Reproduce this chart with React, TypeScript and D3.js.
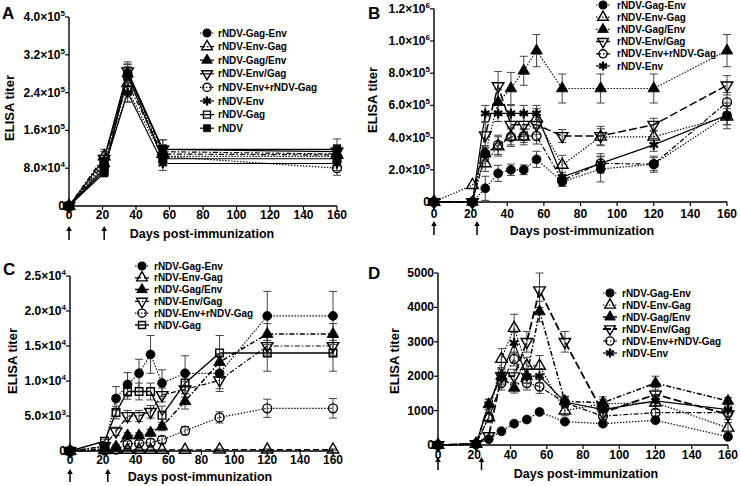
import React from 'react';
import * as d3 from 'd3';

// ---------- shared data ----------
const xTickValues = [0, 20, 40, 60, 80, 100, 120, 140, 160];
const daysA = [0, 21, 35, 56, 160];
const daysLong = [0, 21, 28, 35, 42, 49, 56, 70, 91, 120, 160];

const nGagEnv = 'rNDV-Gag-Env';
const nEnvGag = 'rNDV-Env-Gag';
const nGagSlashEnv = 'rNDV-Gag/Env';
const nEnvSlashGag = 'rNDV-Env/Gag';
const nEnvPlusGag = 'rNDV-Env+rNDV-Gag';
const nEnv = 'rNDV-Env';
const nGag = 'rNDV-Gag';
const nNDV = 'rNDV';

// ---------- panel A ----------
const yTicksA = [0, 80000, 160000, 240000, 320000, 400000];
const aGagEnv = [0, 95000, 280000, 105000, 105000];
const aGagEnvErr = [0, 12000, 20000, 15000, 15000];
const aEnvGag = [0, 105000, 260000, 110000, 108000];
const aEnvGagErr = [0, 15000, 20000, 15000, 15000];
const aGagSlashEnv = [0, 90000, 280000, 115000, 110000];
const aGagSlashEnvErr = [0, 12000, 20000, 15000, 15000];
const aEnvSlashGag = [0, 100000, 285000, 120000, 115000];
const aEnvSlashGagErr = [0, 15000, 20000, 20000, 15000];
const aEnvPlusGag = [0, 85000, 245000, 105000, 80000];
const aEnvPlusGagErr = [0, 12000, 25000, 15000, 15000];
const aEnv = [0, 80000, 240000, 90000, 90000];
const aEnvErr = [0, 10000, 20000, 15000, 15000];
const aGag = [0, 75000, 275000, 100000, 100000];
const aGagErr = [0, 10000, 20000, 15000, 15000];
const aNDV = [0, 70000, 280000, 120000, 120000];
const aNDVErr = [0, 8000, 20000, 20000, 22000];

// ---------- panel B ----------
const yTicksB = [0, 200000, 400000, 600000, 800000, 1000000, 1200000];
const bGagEnv = [0, 0, 85000, 178000, 200000, 200000, 265000, 126000, 205000, 235000, 535000];
const bGagEnvErr = [0, 0, 75000, 50000, 35000, 30000, 50000, 30000, 80000, 50000, 80000];
const bEnvGag = [0, 105000, 240000, 345000, 405000, 405000, 520000, 230000, 405000, 405000, 530000];
const bEnvGagErr = [0, 0, 50000, 60000, 60000, 50000, 60000, 60000, 50000, 40000, 50000];
const bGagSlashEnv = [0, 0, 300000, 620000, 705000, 815000, 940000, 705000, 705000, 705000, 940000];
const bGagSlashEnvErr = [0, 0, 40000, 80000, 100000, 90000, 100000, 90000, 90000, 90000, 100000];
const bEnvSlashGag = [0, 0, 415000, 720000, 480000, 480000, 480000, 410000, 410000, 480000, 725000];
const bEnvSlashGagErr = [0, 0, 80000, 90000, 60000, 60000, 60000, 40000, 60000, 40000, 60000];
const bEnvPlusGag = [0, 0, 300000, 355000, 405000, 410000, 410000, 135000, 240000, 235000, 620000];
const bEnvPlusGagErr = [0, 0, 50000, 60000, 50000, 40000, 50000, 30000, 60000, 40000, 60000];
const bEnv = [0, 0, 550000, 550000, 550000, 550000, 550000, 155000, 240000, 355000, 540000];
const bEnvErr = [0, 0, 50000, 50000, 50000, 50000, 50000, 30000, 40000, 40000, 60000];

// ---------- panel C ----------
const yTicksC = [0, 5000, 10000, 15000, 20000, 25000];
const cGagEnv = [0, 600, 7500, 9500, 11100, 13800, 9700, 11100, 11100, 19300, 19300];
const cGagEnvErr = [0, 200, 1700, 1700, 2000, 2700, 1900, 2500, 2600, 3500, 3500];
const cEnvGag = [0, 100, 150, 150, 150, 150, 150, 150, 200, 200, 200];
const cEnvGagErr = [0, 0, 100, 100, 100, 100, 100, 100, 100, 100, 100];
const cGagSlashEnv = [0, 300, 600, 2200, 2200, 2600, 3500, 7100, 12700, 16700, 16700];
const cGagSlashEnvErr = [0, 200, 300, 400, 400, 500, 600, 1100, 1200, 1500, 1500];
const cEnvSlashGag = [0, 700, 2800, 5000, 5000, 5600, 8000, 8800, 10100, 15000, 15000];
const cEnvSlashGagErr = [0, 300, 600, 800, 800, 900, 1000, 1100, 1200, 1300, 1300];
const cEnvPlusGag = [0, 100, 200, 1000, 1100, 1200, 1600, 2900, 4800, 6100, 6100];
const cEnvPlusGagErr = [0, 100, 200, 400, 400, 500, 500, 600, 800, 1300, 1400];
const cGag = [0, 1400, 5500, 8500, 8500, 8500, 5100, 9700, 14000, 14000, 14000];
const cGagErr = [0, 300, 900, 1100, 1200, 1200, 1300, 1500, 2500, 2600, 2600];

// ---------- panel D ----------
const yTicksD = [0, 1000, 2000, 3000, 4000, 5000];
const dGagEnv = [0, 20, 170, 400, 620, 740, 960, 680, 620, 720, 240];
const dGagEnvErr = [0, 20, 50, 50, 60, 60, 80, 60, 60, 60, 60];
const dEnvGag = [0, 30, 800, 2500, 3400, 2300, 2300, 1000, 1200, 1230, 500];
const dEnvGagErr = [0, 30, 150, 300, 400, 250, 300, 150, 200, 200, 150];
const dGagSlashEnv = [0, 30, 1180, 2000, 1660, 2000, 3880, 1270, 1230, 1800, 1280];
const dGagSlashEnvErr = [0, 30, 150, 250, 150, 200, 300, 150, 100, 200, 100];
const dEnvSlashGag = [0, 30, 260, 2000, 2000, 3000, 4500, 3000, 940, 1470, 890];
const dEnvSlashGagErr = [0, 30, 100, 200, 200, 300, 500, 300, 150, 200, 150];
const dEnvPlusGag = [0, 30, 800, 1800, 2500, 1800, 1700, 1230, 840, 940, 940];
const dEnvPlusGagErr = [0, 30, 100, 200, 200, 200, 200, 150, 100, 100, 100];
const dEnv = [0, 30, 1180, 2050, 2970, 2000, 2000, 1250, 1030, 1280, 1030];
const dEnvErr = [0, 30, 150, 200, 300, 200, 200, 150, 100, 150, 100];

// ---------- styling ----------
const FONT = "'Liberation Sans', Arial, Helvetica, sans-serif";
const DOT = '1.4,1.6';
const DASHDOT = '5,2,1.5,2';
const DASH = '6,3';
const LONGDASH = '8,3';
const SOLID = '';

type Series = {
  name: string;
  values: number[];
  errs: number[];
  marker: string;
  dash: string;
  width?: number;
};

type PanelCfg = {
  id: string;
  x0: number; x1: number; y0: number; y1: number;
  ymax: number;
  yTicks: number[];
  sci: boolean;
  days: number[];
  series: Series[];
  arrows: number[];
  arrowY: [number, number];
  xTickY: number;
  xTitle: [number, number];
  yTitle: [number, number];
  label: [number, number];
  legend: { mx: number; tx: number; y: number; step: number };
};

const panels: PanelCfg[] = [
  {
    id: 'A', x0: 69, x1: 337, y0: 206, y1: 17, ymax: 400000, yTicks: yTicksA, sci: true,
    days: daysA,
    series: [
      { name: nGagEnv, values: aGagEnv, errs: aGagEnvErr, marker: 'circleF', dash: DOT },
      { name: nEnvGag, values: aEnvGag, errs: aEnvGagErr, marker: 'triO', dash: DASHDOT },
      { name: nGagSlashEnv, values: aGagSlashEnv, errs: aGagSlashEnvErr, marker: 'triF', dash: DASHDOT },
      { name: nEnvSlashGag, values: aEnvSlashGag, errs: aEnvSlashGagErr, marker: 'invO', dash: SOLID },
      { name: nEnvPlusGag, values: aEnvPlusGag, errs: aEnvPlusGagErr, marker: 'circleO', dash: DOT },
      { name: nEnv, values: aEnv, errs: aEnvErr, marker: 'star', dash: SOLID },
      { name: nGag, values: aGag, errs: aGagErr, marker: 'squareO', dash: SOLID },
      { name: nNDV, values: aNDV, errs: aNDVErr, marker: 'squareF', dash: SOLID },
    ],
    arrows: [0, 21], arrowY: [226, 240], xTickY: 219,
    xTitle: [202, 238], yTitle: [14, 108], label: [2, 19],
    legend: { mx: 207, tx: 218, y: 33, step: 13.6 },
  },
  {
    id: 'B', x0: 434, x1: 727, y0: 202, y1: 8.8, ymax: 1200000, yTicks: yTicksB, sci: true,
    days: daysLong,
    series: [
      { name: nGagEnv, values: bGagEnv, errs: bGagEnvErr, marker: 'circleF', dash: DOT },
      { name: nEnvGag, values: bEnvGag, errs: bEnvGagErr, marker: 'triO', dash: DOT },
      { name: nGagSlashEnv, values: bGagSlashEnv, errs: bGagSlashEnvErr, marker: 'triF', dash: DOT },
      { name: nEnvSlashGag, values: bEnvSlashGag, errs: bEnvSlashGagErr, marker: 'invO', dash: LONGDASH, width: 1.5 },
      { name: nEnvPlusGag, values: bEnvPlusGag, errs: bEnvPlusGagErr, marker: 'circleO', dash: DASHDOT },
      { name: nEnv, values: bEnv, errs: bEnvErr, marker: 'star', dash: SOLID },
    ],
    arrows: [0, 23.5], arrowY: [221, 235], xTickY: 218,
    xTitle: [582, 235], yTitle: [377, 100], label: [368, 19],
    legend: { mx: 603, tx: 617, y: 5, step: 12.2 },
  },
  {
    id: 'C', x0: 70, x1: 333, y0: 451, y1: 276, ymax: 25000, yTicks: yTicksC, sci: true,
    days: daysLong,
    series: [
      { name: nGagEnv, values: cGagEnv, errs: cGagEnvErr, marker: 'circleF', dash: DOT },
      { name: nEnvGag, values: cEnvGag, errs: cEnvGagErr, marker: 'triO', dash: DASH },
      { name: nGagSlashEnv, values: cGagSlashEnv, errs: cGagSlashEnvErr, marker: 'triF', dash: DASHDOT, width: 1.5 },
      { name: nEnvSlashGag, values: cEnvSlashGag, errs: cEnvSlashGagErr, marker: 'invO', dash: DASHDOT },
      { name: nEnvPlusGag, values: cEnvPlusGag, errs: cEnvPlusGagErr, marker: 'circleO', dash: DOT },
      { name: nGag, values: cGag, errs: cGagErr, marker: 'squareO', dash: SOLID, width: 1.4 },
    ],
    arrows: [0, 23], arrowY: [469, 482], xTickY: 464,
    xTitle: [200, 481], yTitle: [17, 361], label: [3, 275],
    legend: { mx: 142, tx: 154, y: 266, step: 11.8 },
  },
  {
    id: 'D', x0: 438, x1: 728, y0: 445, y1: 273, ymax: 5000, yTicks: yTicksD, sci: false,
    days: daysLong,
    series: [
      { name: nGagEnv, values: dGagEnv, errs: dGagEnvErr, marker: 'circleF', dash: DOT },
      { name: nEnvGag, values: dEnvGag, errs: dEnvGagErr, marker: 'triO', dash: DOT },
      { name: nGagSlashEnv, values: dGagSlashEnv, errs: dGagSlashEnvErr, marker: 'triF', dash: DASHDOT, width: 1.5 },
      { name: nEnvSlashGag, values: dEnvSlashGag, errs: dEnvSlashGagErr, marker: 'invO', dash: LONGDASH, width: 1.8 },
      { name: nEnvPlusGag, values: dEnvPlusGag, errs: dEnvPlusGagErr, marker: 'circleO', dash: DASHDOT },
      { name: nEnv, values: dEnv, errs: dEnvErr, marker: 'star', dash: SOLID },
    ],
    arrows: [0, 24], arrowY: [457, 470], xTickY: 459,
    xTitle: [586, 478], yTitle: [399, 361], label: [368, 279],
    legend: { mx: 610, tx: 622, y: 293, step: 12 },
  },
];

function Marker({ type, x, y, scale = 1 }: { type: string; x: number; y: number; scale?: number }) {
  const sym = d3.symbol();
  if (type === 'star') {
    const r = 4.8 * Math.sqrt(scale);
    const segs = [0, 60, 120].map((a) => {
      const rad = (a * Math.PI) / 180;
      return `M${-r * Math.sin(rad)},${-r * Math.cos(rad)}L${r * Math.sin(rad)},${r * Math.cos(rad)}`;
    });
    return (
      <path d={segs.join('')} transform={`translate(${x},${y})`} stroke="#000" strokeWidth={2.3} fill="none" />
    );
  }
  let t: d3.SymbolType = d3.symbolCircle;
  let size = 62;
  let rot = 0;
  if (type.startsWith('tri')) { t = d3.symbolTriangle; size = 58; }
  if (type.startsWith('inv')) { t = d3.symbolTriangle; size = 58; rot = 180; }
  if (type.startsWith('square')) { t = d3.symbolSquare; size = 58; }
  const filled = type.endsWith('F');
  const d = sym.type(t).size(size * scale)() as string;
  return (
    <path
      d={d}
      transform={`translate(${x},${y}) rotate(${rot})`}
      fill={filled ? '#000' : 'none'}
      stroke="#000"
      strokeWidth={filled ? 0.8 : 1.4}
    />
  );
}

function fmtTick(v: number, sci: boolean) {
  if (v === 0 || !sci) return <>{String(v)}</>;
  const e = Math.floor(Math.log10(v));
  const m = (v / Math.pow(10, e)).toFixed(1);
  return (
    <>
      {m}×10<tspan dy={-5} fontSize={8}>{e}</tspan>
    </>
  );
}

function Panel({ cfg }: { cfg: PanelCfg }) {
  const x = d3.scaleLinear().domain([0, 160]).range([cfg.x0, cfg.x1]);
  const y = d3.scaleLinear().domain([0, cfg.ymax]).range([cfg.y0, cfg.y1]);
  const line = d3
    .line<number>()
    .x((_, i) => x(cfg.days[i]))
    .y((v) => y(v));
  const fs = 12;
  return (
    <g fontFamily={FONT} fontWeight="bold">
      {/* lines */}
      {cfg.series.map((s) => (
        <path
          key={'l' + s.name}
          d={line(s.values) as string}
          fill="none"
          stroke="#000"
          strokeWidth={s.width ?? 1.2}
          strokeDasharray={s.dash || undefined}
        />
      ))}
      {/* error bars */}
      {cfg.series.map((s) =>
        s.values.map((v, i) =>
          s.errs[i] > 0 ? (
            <g key={'e' + s.name + i} stroke="#444" strokeWidth={1}>
              <line x1={x(cfg.days[i])} x2={x(cfg.days[i])} y1={y(v + s.errs[i])} y2={y(Math.max(0, v - s.errs[i]))} />
              <line x1={x(cfg.days[i]) - 4} x2={x(cfg.days[i]) + 4} y1={y(v + s.errs[i])} y2={y(v + s.errs[i])} />
              <line x1={x(cfg.days[i]) - 4} x2={x(cfg.days[i]) + 4} y1={y(Math.max(0, v - s.errs[i]))} y2={y(Math.max(0, v - s.errs[i]))} />
            </g>
          ) : null
        )
      )}
      {/* markers */}
      {cfg.series.map((s) =>
        s.values.map((v, i) => <Marker key={'m' + s.name + i} type={s.marker} x={x(cfg.days[i])} y={y(v)} />)
      )}
      {/* axes */}
      <line x1={cfg.x0} x2={cfg.x0} y1={cfg.y0} y2={cfg.y1} stroke="#000" strokeWidth={1.4} />
      <line x1={cfg.x0} x2={cfg.x1} y1={cfg.y0} y2={cfg.y0} stroke="#000" strokeWidth={1.4} />
      {cfg.yTicks.map((t) => (
        <g key={'yt' + t}>
          <line x1={cfg.x0 - 4} x2={cfg.x0} y1={y(t)} y2={y(t)} stroke="#000" strokeWidth={1.2} />
          <text x={cfg.x0 - 4} y={y(t) + 4} textAnchor="end" fontSize={fs}>
            {fmtTick(t, cfg.sci)}
          </text>
        </g>
      ))}
      {xTickValues.map((t) => (
        <g key={'xt' + t}>
          <line x1={x(t)} x2={x(t)} y1={cfg.y0} y2={cfg.y0 + 4} stroke="#000" strokeWidth={1.2} />
          <text x={x(t)} y={cfg.xTickY} textAnchor="middle" fontSize={fs}>
            {t}
          </text>
        </g>
      ))}
      {/* arrows */}
      {cfg.arrows.map((a) => (
        <g key={'ar' + a}>
          <line x1={x(a)} x2={x(a)} y1={cfg.arrowY[0] + 3} y2={cfg.arrowY[1]} stroke="#000" strokeWidth={1.5} />
          <path
            d={`M${x(a)},${cfg.arrowY[0]}L${x(a) - 2.8},${cfg.arrowY[0] + 5}L${x(a) + 2.8},${cfg.arrowY[0] + 5}Z`}
            fill="#000"
          />
        </g>
      ))}
      {/* titles */}
      <text x={cfg.xTitle[0]} y={cfg.xTitle[1]} textAnchor="middle" fontSize={12.5}>
        Days post-immunization
      </text>
      <text
        transform={`translate(${cfg.yTitle[0]},${cfg.yTitle[1]}) rotate(-90)`}
        textAnchor="middle"
        fontSize={13}
      >
        ELISA titer
      </text>
      <text x={cfg.label[0]} y={cfg.label[1]} fontSize={17}>
        {cfg.id}
      </text>
      {/* legend */}
      {cfg.series.map((s, i) => {
        const ly = cfg.legend.y + i * cfg.legend.step;
        return (
          <g key={'lg' + s.name}>
            <line
              x1={cfg.legend.mx - 7}
              x2={cfg.legend.mx + 7}
              y1={ly}
              y2={ly}
              stroke="#000"
              strokeWidth={s.width ?? 1.2}
              strokeDasharray={s.dash || undefined}
            />
            <Marker type={s.marker} x={cfg.legend.mx} y={ly} scale={0.85} />
            <text x={cfg.legend.tx} y={ly + 3.5} fontSize={10}>
              {s.name}
            </text>
          </g>
        );
      })}
    </g>
  );
}

export default function App() {
  return (
    <svg
      width={740}
      height={486}
      viewBox="0 0 740 486"
      style={{ position: 'absolute', left: 0, top: 0, background: '#fff' }}
    >
      <rect width={740} height={486} fill="#fff" />
      {panels.map((p) => (
        <Panel key={p.id} cfg={p} />
      ))}
    </svg>
  );
}
